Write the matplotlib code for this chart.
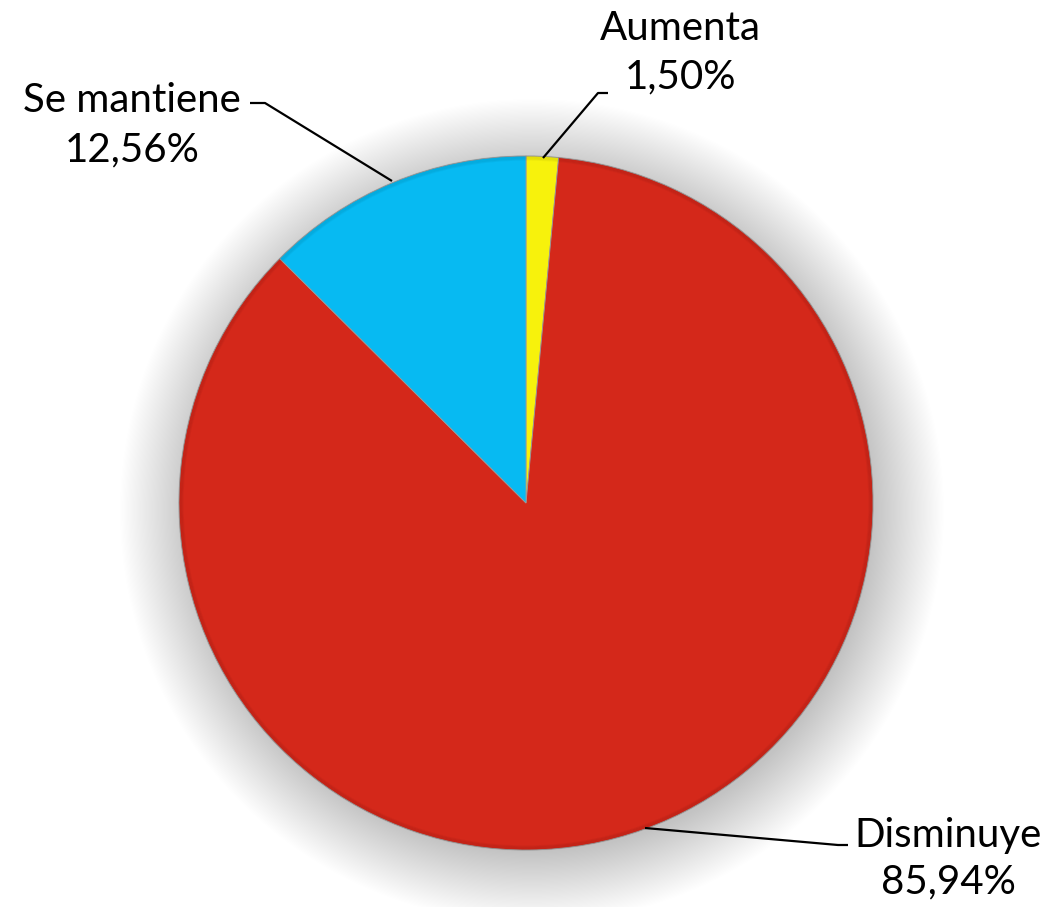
import numpy as np
import matplotlib.pyplot as plt
from matplotlib.patches import Circle

labels = ['Aumenta', 'Disminuye', 'Se mantiene']
values = [1.50, 85.94, 12.56]
pct_text = ['1,50%', '85,94%', '12,56%']
colors = ['#F7F20C', '#D4281A', '#07BAF2']

W, H = 1049, 907
fig = plt.figure(figsize=(W / 100, H / 100), dpi=100)
ax = fig.add_axes([0, 0, 1, 1])

cx, cy, r = 526, H - 503, 347

# soft shadow behind the pie
for k in range(60):
    rad = r + 65 - k * 1.2
    ax.add_patch(Circle((cx + 6, cy - 8), rad, color='black', alpha=0.0035,
                        lw=0, zorder=1))

wedges, _ = ax.pie(values, colors=colors, startangle=90, counterclock=False,
                   center=(cx, cy), radius=r, frame=True,
                   wedgeprops=dict(edgecolor='#9a9a9a', linewidth=0.6))
for w in wedges:
    w.set_zorder(2)
ax.set_xlim(0, W)
ax.set_ylim(0, H)
ax.set_aspect('equal')
ax.axis('off')

# slight darker rim
for k in range(5):
    ax.add_patch(Circle((cx, cy), r - k * 0.9, fill=False, ec='black',
                        alpha=0.03, lw=1.5, zorder=3))

font = dict(family=['Lato', 'DejaVu Sans'], fontsize=29, color='black',
            ha='center', va='center', zorder=5)

def line(pts):
    xs = [p[0] for p in pts]
    ys = [H - p[1] for p in pts]
    ax.plot(xs, ys, color='black', lw=1.6, zorder=4, solid_capstyle='butt')

line([(543, 158), (598, 93), (608, 93)])
line([(392, 181), (265, 103), (250, 103)])
line([(645, 828), (838, 845), (848, 845)])

# label positions in pixels from the top
ax.text(680, H - 28, labels[0], **font)
ax.text(680, H - 77, pct_text[0], **font)
ax.text(132, H - 100, labels[2], **font)
ax.text(132, H - 150, pct_text[2], **font)
ax.text(948, H - 835, labels[1], **font)
ax.text(948, H - 882, pct_text[1], **font)

fig.savefig('out.png', dpi=100, facecolor='white')
